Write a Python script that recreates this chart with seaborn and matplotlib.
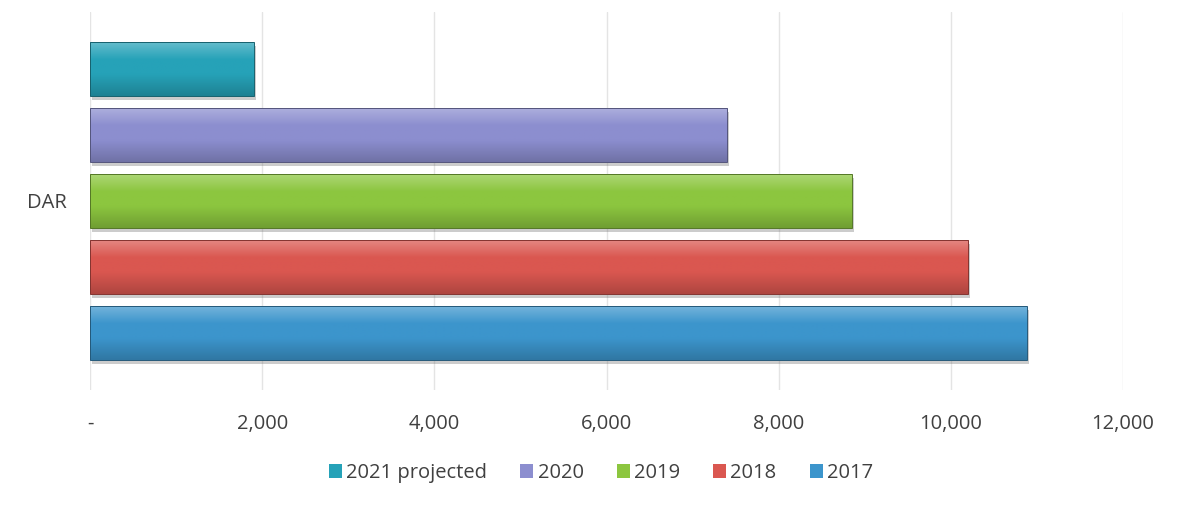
import numpy as np
import pandas as pd
import matplotlib
matplotlib.use("Agg")
import matplotlib.pyplot as plt
import matplotlib.patheffects as pe
from matplotlib.colors import to_rgb
from matplotlib.ticker import FuncFormatter
import seaborn as sns

# Data
category = ["DAR"]
years = ["2021 projected", "2020", "2019", "2018", "2017"]
values = [1900, 7400, 8850, 10200, 10880]
colors = ["#26a2b8", "#8c8ecf", "#8cc63f", "#da5750", "#3c95cc"]

df = pd.DataFrame({
    "site": category * len(years),
    "year": years,
    "value": values,
})

sns.set_theme(style="white")
plt.rcParams["font.family"] = ["Open Sans", "DejaVu Sans"]

fig = plt.figure(figsize=(11.85, 5.14), dpi=100)
ax = fig.add_axes([90 / 1185, 1 - 390 / 514, (1123 - 90) / 1185, (390 - 12) / 514])

sns.barplot(
    data=df, x="value", y="site", hue="year", hue_order=years,
    palette=colors, saturation=1, orient="h", width=0.873, gap=0.18, ax=ax,
    edgecolor="none", linewidth=0, legend=True,
)

# Glossy vertical gradient on each bar, with a soft drop shadow
bars = [p for p in ax.patches if p.get_width() > 0]
for bar in bars:
    base = np.array(to_rgb(bar.get_facecolor()))
    bar.set_path_effects([pe.SimplePatchShadow(offset=(1.5, -3), alpha=0.3,
                                               shadow_rgbFace=(0.35, 0.35, 0.35)),
                          pe.Normal()])
    t = np.linspace(0, 1, 64)[:, None]
    light = base + (1 - base) * 0.3
    dark = base * 0.8
    top = np.clip(light * (1 - t * 3) + base * (t * 3), 0, 1)
    bottom = np.clip(base * (1 - (t - 0.6) / 0.4) + dark * ((t - 0.6) / 0.4), 0, 1)
    grad = np.where(t < 0.33, top, np.where(t < 0.6, base, bottom))
    grad = np.repeat(grad[:, None, :], 2, axis=1)
    bb = bar.get_bbox()
    im = ax.imshow(grad, extent=(bb.x0, bb.x1, bb.y1, bb.y0), origin="upper",
                   aspect="auto", zorder=bar.get_zorder() + 0.1,
                   interpolation="bilinear")
    im.set_clip_path(bar)
    ax.add_patch(plt.Rectangle((bb.x0, bb.y0), bb.width, bb.height,
                               fill=False, edgecolor=tuple(base * 0.6),
                               linewidth=0.7, zorder=bar.get_zorder() + 0.2))

ax.set_xlim(0, 12000)
ax.set_ylim(0.5, -0.5)

# Axes styling
ax.set_xticks(np.arange(0, 12001, 2000))
ax.xaxis.set_major_formatter(FuncFormatter(lambda v, _: "-" if v == 0 else f"{v:,.0f}"))
ax.grid(axis="x", color="#e4e4e4", linewidth=1)
ax.set_axisbelow(True)
for s in ax.spines.values():
    s.set_visible(False)
ax.tick_params(axis="x", length=0, pad=17, labelsize=14.5, labelcolor="#404040")
ax.tick_params(axis="y", length=0, pad=17, labelsize=14.5, labelcolor="#404040")
ax.set_xlabel("")
ax.set_ylabel("")

handles, labels = ax.get_legend_handles_labels()
ax.get_legend().remove()
fig.legend(handles, labels, loc="center", bbox_to_anchor=(601 / 1185, 1 - 473 / 514),
           ncol=5, frameon=False, fontsize=14.5, handlelength=0.65,
           handleheight=0.65, handletextpad=0.2, columnspacing=1.65,
           labelcolor="#404040")

fig.savefig("out.png", dpi=100, facecolor="white")
